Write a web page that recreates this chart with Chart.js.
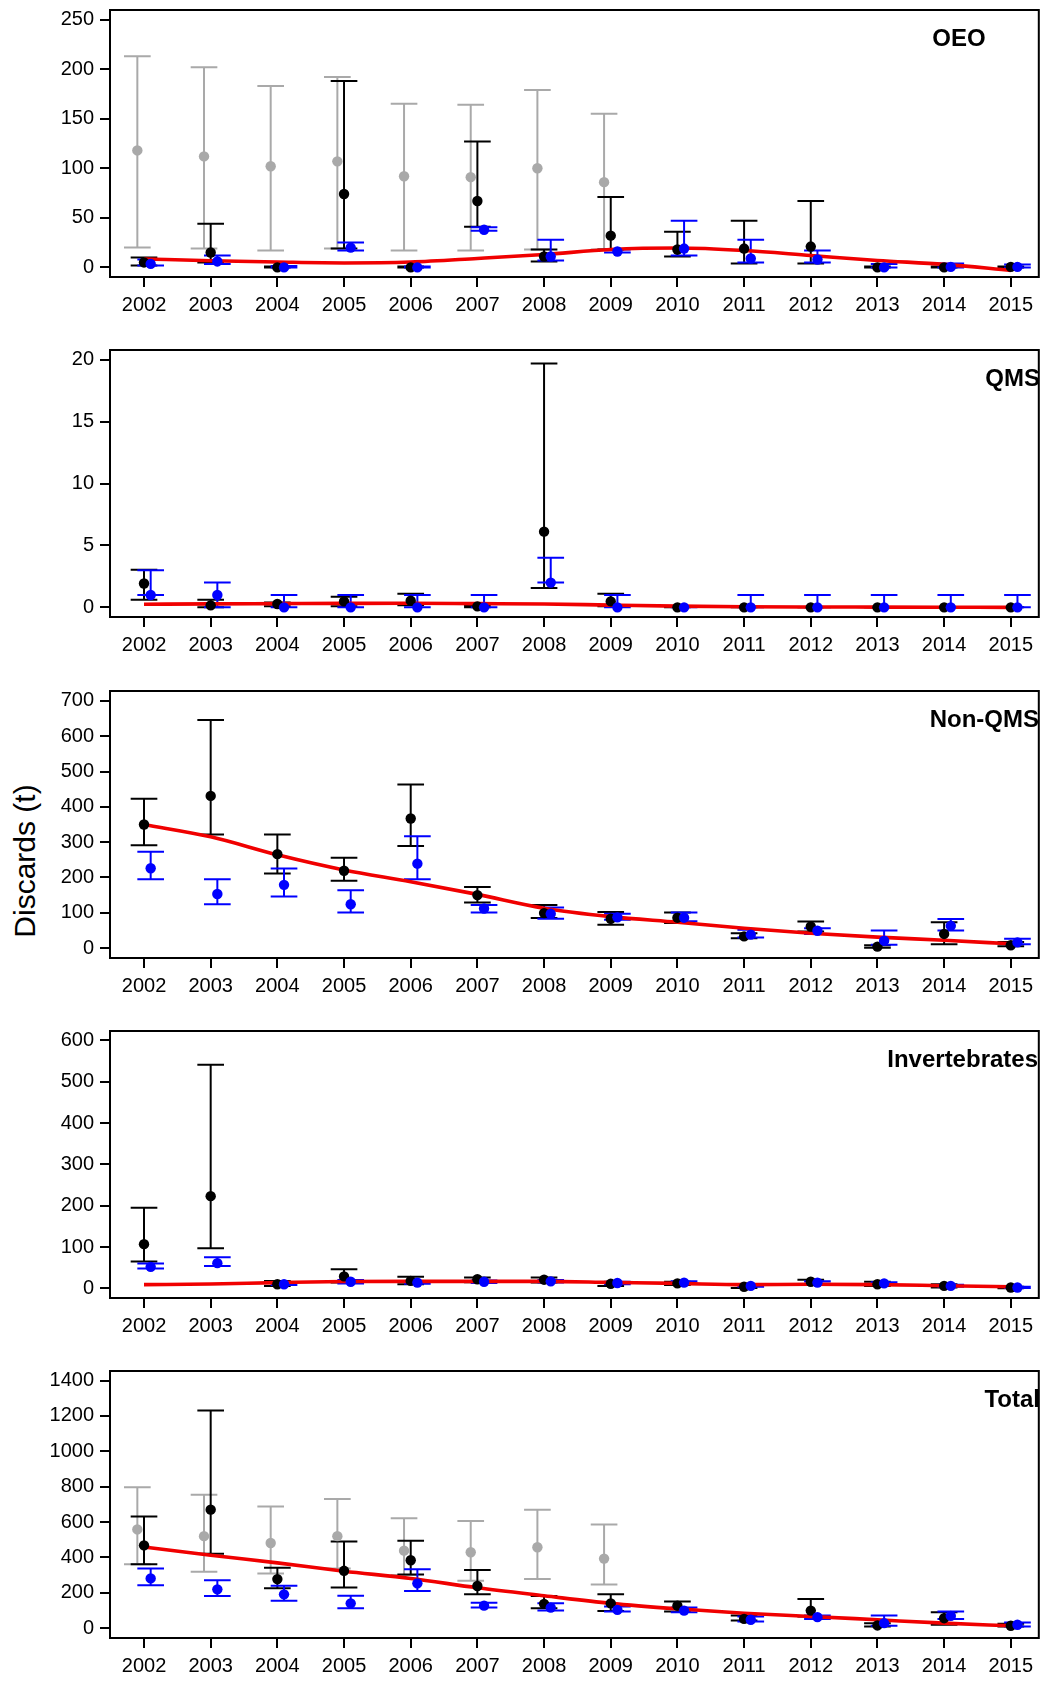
<!DOCTYPE html>
<html>
<head>
<meta charset="utf-8">
<script src="https://cdn.jsdelivr.net/npm/chart.js@4.4.1/dist/chart.umd.min.js"></script>
<style>
  html, body { margin: 0; padding: 0; background: #fff; width: 1044px; height: 1681px; overflow: hidden; }
  canvas { position: absolute; left: 0; }
  #ylab {
    position: absolute; left: 25px; top: 861px;
    transform: translate(-50%, -50%) rotate(-90deg);
    font: 30px 'Liberation Sans', Arial, sans-serif; color: #000; white-space: nowrap;
  }
</style>
</head>
<body>
<div id="ylab">Discards (t)</div>
<canvas id="c0" width="1044" height="335" style="top:0px"></canvas>
<canvas id="c1" width="1044" height="335" style="top:340px"></canvas>
<canvas id="c2" width="1044" height="335" style="top:680.5px"></canvas>
<canvas id="c3" width="1044" height="335" style="top:1021px"></canvas>
<canvas id="c4" width="1044" height="335" style="top:1361px"></canvas>
<script>
// ---- data ----
const years = [2002, 2003, 2004, 2005, 2006, 2007, 2008, 2009, 2010, 2011, 2012, 2013, 2014, 2015];

// OEO
const oeoTicks   = [0, 50, 100, 150, 200, 250];
const oeoGrey    = [118, 112, 102, 107, 92, 91, 100, 86, null, null, null, null, null, null];
const oeoGreyLo  = [20, 19, 17, 19, 17, 17, 18, 18, null, null, null, null, null, null];
const oeoGreyHi  = [213, 202, 183, 192, 165, 164, 179, 155, null, null, null, null, null, null];
const oeoBlack   = [5, 15, 0, 74, 0, 67, 11, 32, 18, 19, 21, 0, 0, 0.5];
const oeoBlackLo = [2, 5, 0, 19, 0, 41, 6, 18, 11, 4, 4, 0, 0, 0];
const oeoBlackHi = [10, 44, 1, 188, 1, 127, 18, 71, 36, 47, 67, 1, 1, 1];
const oeoBlue    = [3.5, 6, 0, 20, 0, 38, 11, 16, 19, 9, 8, 0, 0.5, 0.5];
const oeoBlueLo  = [2, 3.5, 0, 17, 0, 37, 7, 15, 12, 5, 5, 0, 0, 0];
const oeoBlueHi  = [8, 12, 1.5, 25, 1, 40.5, 28, 18, 47, 28, 17, 3.5, 4, 3];
const oeoTrend   = [8.5, 6.7, 5.4, 4.5, 5.4, 9, 13, 18, 19.5, 17, 12, 7, 3, -3];

// QMS
const qmsTicks   = [0, 5, 10, 15, 20];
const qmsBlack   = [1.93, 0.16, 0.27, 0.48, 0.54, 0.08, 6.12, 0.48, 0, 0, 0, 0, 0, 0];
const qmsBlackLo = [0.62, 0, 0.08, 0.08, 0.16, 0, 1.56, 0.08, 0, 0, 0, 0, 0, 0];
const qmsBlackHi = [3.03, 0.62, 0.4, 0.86, 1.1, 0.1, 19.7, 1.1, 0, 0, 0, 0, 0, 0];
const qmsBlue    = [1, 1, 0, 0, 0, 0, 2, 0, 0, 0, 0, 0, 0, 0];
const qmsBlueLo  = [1, 0, 0, 0, 0, 0, 2, 0, 0, 0, 0, 0, 0, 0];
const qmsBlueHi  = [3, 2, 1, 1, 1, 1, 4, 1, 0, 1, 1, 1, 1, 1];
const qmsTrend   = [0.25, 0.28, 0.3, 0.32, 0.33, 0.3, 0.27, 0.18, 0.1, 0.05, 0.03, 0.02, 0.01, 0];

// Non-QMS
const nonTicks   = [0, 100, 200, 300, 400, 500, 600, 700];
const nonBlack   = [350, 431, 266, 219, 367, 150, 99, 83, 86, 33, 61, 4, 40, 8];
const nonBlackLo = [291, 322, 211, 191, 289, 129, 85, 66, 71, 28, 47, 1, 11, 5];
const nonBlackHi = [423, 646, 322, 256, 463, 173, 122, 102, 101, 42, 75, 8, 73, 17];
const nonBlue    = [226, 153, 179, 124, 239, 112, 97, 87, 86, 38, 49, 21, 63, 16];
const nonBlueLo  = [195, 124, 146, 101, 195, 101, 83, 80, 76, 30, 40, 9, 50, 11];
const nonBlueHi  = [273, 195, 225, 164, 317, 122, 115, 97, 101, 52, 56, 50, 82, 26];
const nonTrend   = [350, 315, 264, 221, 188, 152, 113, 89, 73, 56, 42, 31, 22, 12];

// Invertebrates
const invTicks   = [0, 100, 200, 300, 400, 500, 600];
const invBlack   = [107, 223, 10, 29, 18, 22, 21, 11, 12, 4, 16, 10, 6, 2];
const invBlackLo = [65, 97, 6, 14, 10, 15, 14, 6, 8, 1, 10, 6, 2, 0];
const invBlackHi = [195, 541, 18, 46, 28, 26, 26, 15, 16, 8, 21, 16, 10, 4];
const invBlue    = [52, 61, 10, 16, 14, 16, 17, 13, 14, 6, 14, 12, 6, 2];
const invBlueLo  = [48, 54, 8, 12, 11, 13, 14, 10, 11, 4, 11, 9, 4, 1];
const invBlueHi  = [60, 75, 14, 20, 18, 19, 20, 16, 17, 9, 17, 15, 9, 4];
const invTrend   = [9, 10.5, 14, 16.5, 17, 17, 17, 14.5, 12, 9, 10, 9, 6.5, 4];

// Total
const totTicks   = [0, 200, 400, 600, 800, 1000, 1200, 1400];
const totGrey    = [558, 520, 481, 520, 438, 429, 457, 393, null, null, null, null, null, null];
const totGreyLo  = [361, 318, 309, 337, 300, 268, 277, 247, null, null, null, null, null, null];
const totGreyHi  = [796, 754, 687, 730, 621, 605, 670, 586, null, null, null, null, null, null];
const totBlack   = [468, 670, 277, 324, 384, 238, 137, 140, 127, 52, 99, 15, 56, 13];
const totBlackLo = [361, 421, 225, 230, 303, 191, 112, 97, 94, 43, 66, 9, 19, 9];
const totBlackHi = [631, 1230, 341, 490, 494, 328, 182, 191, 150, 71, 165, 28, 90, 24];
const totBlue    = [281, 219, 191, 140, 253, 127, 116, 103, 99, 47, 62, 28, 69, 19];
const totBlueLo  = [243, 182, 155, 112, 210, 116, 99, 94, 90, 37, 52, 13, 52, 9];
const totBlueHi  = [337, 271, 240, 183, 333, 144, 140, 122, 116, 66, 71, 71, 94, 32];
const totTrend   = [459, 412, 369, 322, 281, 228, 183, 140, 109, 84, 66, 47, 28, 13];

// ---- styling ----
const FONT = "'Liberation Sans', Arial, sans-serif";
const GREY = '#a9a9a9', BLACK = '#000000', BLUE = '#0000ff', RED = '#f00000';
const CAP = 0.2;          // half cap width in years
const OFFSET = 0.1;       // horizontal shift of grey / blue series
const X_MIN = 2001.49, X_MAX = 2015.42;

const panels = [
  { id: 'c0', title: 'OEO', titleX: 959, titleAlign: 'center', yMin: -9.7, yMax: 259.7, ticks: oeoTicks,
    grey: [oeoGrey, oeoGreyLo, oeoGreyHi], black: [oeoBlack, oeoBlackLo, oeoBlackHi], blue: [oeoBlue, oeoBlueLo, oeoBlueHi], trend: oeoTrend },
  { id: 'c1', title: 'QMS', titleX: 1040, titleAlign: 'right', yMin: -0.78, yMax: 20.8, ticks: qmsTicks,
    grey: null, black: [qmsBlack, qmsBlackLo, qmsBlackHi], blue: [qmsBlue, qmsBlueLo, qmsBlueHi], trend: qmsTrend },
  { id: 'c2', title: 'Non-QMS', titleX: 1039, titleAlign: 'right', yMin: -28.2, yMax: 728.2, ticks: nonTicks,
    grey: null, black: [nonBlack, nonBlackLo, nonBlackHi], blue: [nonBlue, nonBlueLo, nonBlueHi], trend: nonTrend },
  { id: 'c3', title: 'Invertebrates', titleX: 1038, titleAlign: 'right', yMin: -23.3, yMax: 622.5, ticks: invTicks,
    grey: null, black: [invBlack, invBlackLo, invBlackHi], blue: [invBlue, invBlueLo, invBlueHi], trend: invTrend },
  { id: 'c4', title: 'Total', titleX: 1040, titleAlign: 'right', yMin: -56, yMax: 1454, ticks: totTicks,
    grey: [totGrey, totGreyLo, totGreyHi], black: [totBlack, totBlackLo, totBlackHi], blue: [totBlue, totBlueLo, totBlueHi], trend: totTrend }
];

function pts(vals, shift) {
  const out = [];
  vals.forEach((v, i) => { if (v != null) out.push({ x: years[i] + shift, y: v }); });
  return out;
}

// error bars drawn below the markers
const errorBars = {
  id: 'errorBars',
  beforeDatasetsDraw(chart, args, opts) {
    const { ctx, chartArea: a, scales: { x, y } } = chart;
    ctx.save();
    ctx.beginPath();
    ctx.rect(a.left, a.top, a.right - a.left, a.bottom - a.top);
    ctx.clip();
    ctx.lineWidth = 2;
    opts.bars.forEach(b => {
      if (!b.lo) return;
      ctx.strokeStyle = b.color;
      years.forEach((yr, i) => {
        if (b.lo[i] == null) return;
        const cx = x.getPixelForValue(yr + b.shift);
        const x0 = x.getPixelForValue(yr + b.shift - CAP);
        const x1 = x.getPixelForValue(yr + b.shift + CAP);
        const yl = y.getPixelForValue(b.lo[i]);
        const yh = y.getPixelForValue(b.hi[i]);
        ctx.beginPath();
        ctx.moveTo(cx, yl); ctx.lineTo(cx, yh);
        ctx.moveTo(x0, yl); ctx.lineTo(x1, yl);
        ctx.moveTo(x0, yh); ctx.lineTo(x1, yh);
        ctx.stroke();
      });
    });
    ctx.restore();
  }
};

// plot frame and panel label
const frame = {
  id: 'frame',
  afterDraw(chart, args, opts) {
    const { ctx, chartArea: a } = chart;
    ctx.save();
    ctx.strokeStyle = '#000';
    ctx.lineWidth = 2;
    ctx.strokeRect(a.left, a.top, a.right - a.left, a.bottom - a.top);
    ctx.fillStyle = '#000';
    ctx.font = 'bold 24px ' + FONT;
    ctx.textAlign = opts.align;
    ctx.textBaseline = 'middle';
    ctx.fillText(opts.text, opts.x, a.top + 29);
    ctx.restore();
  }
};

function pointSet(series, shift, color, order) {
  return {
    data: pts(series[0], shift),
    backgroundColor: color, borderColor: color, borderWidth: 0,
    pointRadius: 5.2, pointHoverRadius: 5.2, showLine: false, order: order
  };
}

panels.forEach(p => {
  const datasets = [{
    type: 'line',
    data: pts(p.trend, 0),
    borderColor: RED, borderWidth: 3.6,
    pointRadius: 0, showLine: true,
    cubicInterpolationMode: 'monotone',
    order: 4
  }];
  if (p.grey) datasets.push(pointSet(p.grey, -OFFSET, GREY, 3));
  datasets.push(pointSet(p.black, 0, BLACK, 2));
  datasets.push(pointSet(p.blue, OFFSET, BLUE, 1));

  new Chart(document.getElementById(p.id), {
    type: 'scatter',
    data: { datasets: datasets },
    options: {
      responsive: false,
      animation: false,
      events: [],
      layout: { padding: { top: 10, right: 1, left: 0, bottom: 0 } },
      plugins: {
        legend: { display: false },
        tooltip: { enabled: false },
        errorBars: {
          bars: [
            { color: GREY, shift: -OFFSET, lo: p.grey && p.grey[1], hi: p.grey && p.grey[2] },
            { color: BLACK, shift: 0, lo: p.black[1], hi: p.black[2] },
            { color: BLUE, shift: OFFSET, lo: p.blue[1], hi: p.blue[2] }
          ]
        },
        frame: { text: p.title, x: p.titleX, align: p.titleAlign }
      },
      scales: {
        x: {
          type: 'linear', min: X_MIN, max: X_MAX,
          afterBuildTicks: s => { s.ticks = years.map(v => ({ value: v })); },
          afterFit: s => { s.height = 58; s.paddingLeft = 0; s.paddingRight = 0; },
          ticks: { autoSkip: false, maxRotation: 0, color: '#000', padding: 6,
                   font: { family: FONT, size: 20 }, callback: v => String(v) },
          grid: { drawOnChartArea: false, drawTicks: true, tickLength: 10, color: '#000', lineWidth: 2 },
          border: { display: false }
        },
        y: {
          min: p.yMin, max: p.yMax,
          afterBuildTicks: s => { s.ticks = p.ticks.map(v => ({ value: v })); },
          afterFit: s => { s.width = 110; s.paddingTop = 0; s.paddingBottom = 0; },
          ticks: { color: '#000', padding: 6, font: { family: FONT, size: 20 }, callback: v => String(v) },
          grid: { drawOnChartArea: false, drawTicks: true, tickLength: 10, color: '#000', lineWidth: 2 },
          border: { display: false }
        }
      }
    },
    plugins: [errorBars, frame]
  });
});
</script>
</body>
</html>
